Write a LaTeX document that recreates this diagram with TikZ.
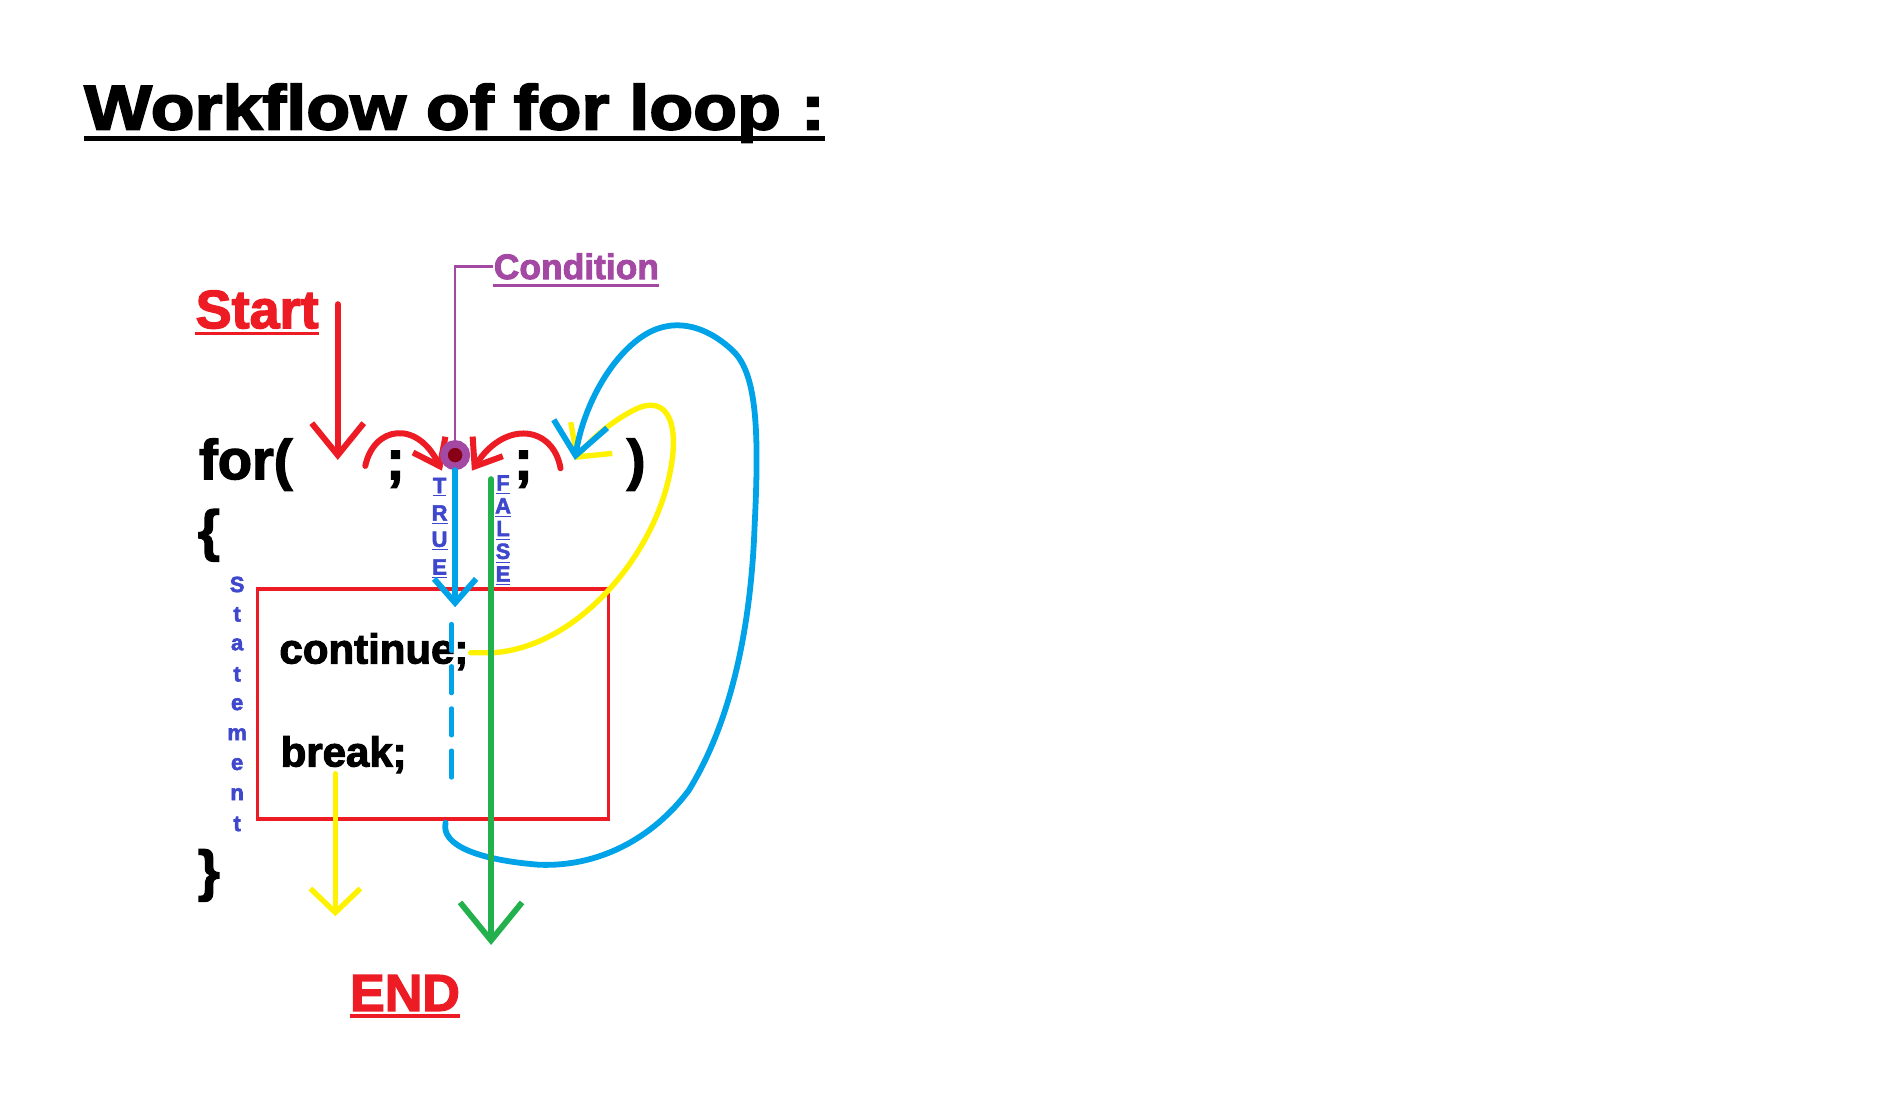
\documentclass[tikz,border=0pt]{standalone}
\usepackage{fontspec}
\setmainfont{Liberation Sans}
\newfontfamily\heavyfont{Liberation Sans}[UprightFont={* Bold}, FakeBold=2.5]
\newfontfamily\titlefont{Liberation Sans}[UprightFont={* Bold}, FakeBold=3, FakeStretch=1.14]
\usepackage{xcolor}
\usepackage{tikz}
\usetikzlibrary{positioning, arrows.meta}

\definecolor{paintred}{HTML}{ED1C24}
\definecolor{paintblue}{HTML}{00A2E8}
\definecolor{paintyellow}{HTML}{FFF200}
\definecolor{paintgreen}{HTML}{22B14C}
\definecolor{paintpurple}{HTML}{A349A4}
\definecolor{paintdark}{HTML}{880015}
\definecolor{paintindigo}{HTML}{3F48CC}

\begin{document}
\begin{tikzpicture}[
    x=0.599pt, y=-0.599pt,
    word/.style={inner sep=0pt, anchor=base west},
    code/.style={word, font=\heavyfont\fontsize{28}{30}\selectfont},
    stmt/.style={word, font=\heavyfont\fontsize{21}{24}\selectfont},
    letter/.style={inner sep=0pt, text=paintindigo, font=\heavyfont\fontsize{11}{12}\selectfont},
    hand/.style={line cap=round, line join=round},
    redarrow/.style={hand, draw=paintred, line width=3pt},
    bluearrow/.style={hand, draw=paintblue, line width=2.9pt},
    yellowarrow/.style={hand, draw=paintyellow, line width=2.7pt},
    greenarrow/.style={hand, draw=paintgreen, line width=2.9pt}
]
    \useasboundingbox (0,0) rectangle (1568,922);

    \node [word, font=\titlefont\fontsize{31.5}{34}\selectfont] (title) at (70,108) {Workflow of for loop :};
    \draw [line width=2.4pt] ([yshift=-4.6pt]title.base west) -- ([yshift=-4.6pt]title.base east);

    \node [word, text=paintred, font=\heavyfont\fontsize{27}{30}\selectfont] (start) at (163,274) {Start};
    \draw [paintred, line width=1.8pt] ([yshift=-2.6pt]start.base west) -- ([yshift=-2.6pt]start.base east);

    \node [word, text=paintpurple, font=\heavyfont\fontsize{17.7}{20}\selectfont] (condlbl) at (412,233) {Condition};
    \draw [paintpurple, line width=1.5pt] ([yshift=-3pt]condlbl.base west) -- ([yshift=-3pt]condlbl.base east);

    \node [word, text=paintred, font=\heavyfont\fontsize{26}{28}\selectfont] (endlbl) at (292,844) {END};
    \draw [paintred, line width=1.8pt] ([yshift=-2.6pt]endlbl.base west) -- ([yshift=-2.6pt]endlbl.base east);

    \node [code] (forkw) at (166,400) {for(};
    \node [code] (semione) at (322,400) {;};
    \node [code] (semitwo) at (429,400) {;};
    \node [code] (close) at (523,400) {)};
    \node [code] (lbrace) at (165,459) {\{};
    \node [code] (rbrace) at (165,743) {\}};

    \node [draw=paintred, line width=1.8pt, minimum width=293*0.599pt, minimum height=192*0.599pt, inner sep=0pt] (body) at (361.5,588) {};
    \node [stmt] (cont) at (233,554) {continue;};
    \node [stmt] (brk) at (234,640) {break;};

    \foreach \ch [count=\i] in {S,t,a,t,e,m,e,n,t}
        \node [letter] (stm\i) at (198,463+25*\i) {\ch};
    \foreach \ch/\yy [count=\i] in {T/407, R/430, U/452, E/475}
        \node [letter] (tru\i) at (367,\yy) {\underline{\ch}};
    \foreach \ch/\yy [count=\i] in {F/405, A/424, L/443, S/462, E/481}
        \node [letter] (fls\i) at (420,\yy) {\underline{\ch}};

    \coordinate (startfrom) at (282,254);
    \coordinate (init) at (282,384);
    \coordinate (leftfrom) at (305,389);
    \coordinate (leftto) at (369,393);
    \coordinate (rightfrom) at (468,391);
    \coordinate (rightto) at (394,393);
    \coordinate (trueto) at (380,507);
    \coordinate (dashfrom) at (377,521);
    \coordinate (dashto) at (377,660);
    \coordinate (falsefrom) at (410,400);
    \coordinate (falseto) at (410,789);
    \coordinate (contfrom) at (393,545);
    \coordinate (incr) at (480,384);
    \coordinate (loopfrom) at (372,687);
    \coordinate (brkfrom) at (280,646);
    \coordinate (brkto) at (280,765);

    \draw [redarrow, -{Straight Barb[length=16pt, width=26pt]}] (startfrom) -- (init);
    \draw [redarrow, -{Straight Barb[length=12pt, width=18pt]}] (leftfrom) .. controls (312,356) and (348,350) .. (leftto);
    \draw [redarrow, -{Straight Barb[length=12pt, width=18pt]}] (rightfrom) .. controls (462,356) and (422,350) .. (rightto);

    \draw [yellowarrow, -{Straight Barb[length=12pt, width=26pt]}] (contfrom) -- (412,545)
        .. controls (480,540) and (540,470) .. (557,405)
        .. controls (570,355) and (558,328) .. (530,342)
        .. controls (510,352) and (492,368) .. (incr);
    \draw [yellowarrow, -{Straight Barb[length=12pt, width=25pt]}] (brkfrom) -- (brkto);

    \draw [bluearrow, -{Straight Barb[length=16pt, width=27pt]}] (loopfrom)
        .. controls (368,706) and (400,718) .. (450,722)
        .. controls (500,724) and (545,700) .. (575,660)
        .. controls (612,600) and (627,520) .. (630,440)
        .. controls (634,360) and (632,312) .. (612,293)
        .. controls (590,272) and (560,262) .. (532,284)
        .. controls (505,305) and (486,345) .. (incr);
    \draw [bluearrow, line width=2.1pt, dash pattern=on 13.5pt off 7.6pt] (dashfrom) -- (dashto);

    \node [circle, fill=paintdark, draw=paintpurple, line width=3.8pt, minimum size=11.2pt, inner sep=0pt] (cond) at (380,380) {};
    \draw [paintpurple, line width=1.2pt] (cond.north) |- (condlbl.west);

    \draw [bluearrow, -{Straight Barb[length=12pt, width=21pt]}] (cond.south) -- (trueto);
    \draw [greenarrow, -{Straight Barb[length=19pt, width=31pt]}] (falsefrom) -- (falseto);
\end{tikzpicture}
\end{document}
